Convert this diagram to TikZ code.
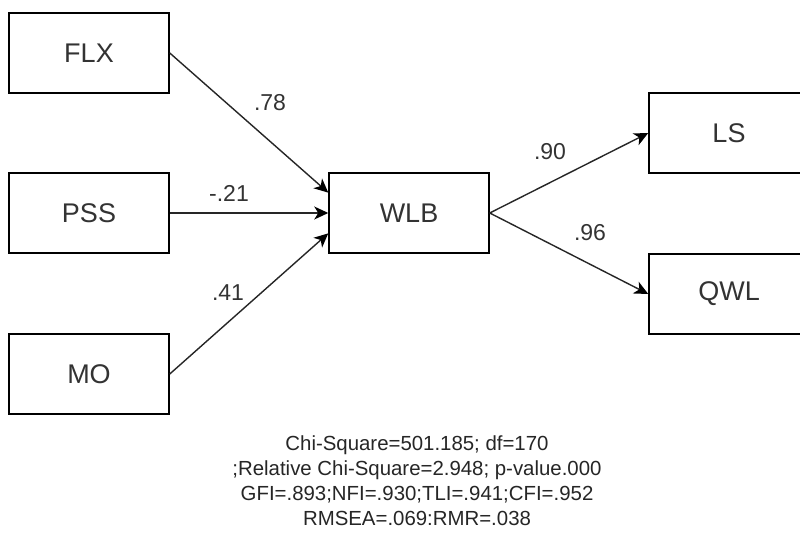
\documentclass[tikz,border=0pt]{standalone}
\usepackage{fontspec}
\setmainfont{Liberation Sans}
\usetikzlibrary{arrows.meta,calc}
\begin{document}
\begin{tikzpicture}[x=1pt,y=-1pt,
  box/.style={draw=black, line width=1.5pt, fill=white, minimum width=160pt, minimum height=80pt, inner sep=0pt, text=black!80, font=\fontsize{27}{32}\selectfont},
  edge/.style={draw=black!85, line width=1.4pt, -{Stealth[length=14pt,width=13pt,inset=4pt,color=black]}},
  wlabel/.style={text=black!80, font=\fontsize{23}{27}\selectfont, inner sep=0pt},
  stats/.style={text=black!85, font=\fontsize{20.4}{25}\selectfont, align=center, inner sep=0pt}]
\clip (0,0) rectangle (800,537);
\fill[white] (0,0) rectangle (800,537);
\node[box] (flx) at (89,53) {FLX};
\node[box] (pss) at (89,213) {PSS};
\node[box] (mo) at (89,374) {MO};
\node[box] (wlb) at (409,213) {WLB};
\node[box] (ls) at (729,133) {LS};
\node[box] (qwl) at (729,294) {QWL};
\draw[edge] (flx.east) -- ($(wlb.north west)!0.25!(wlb.south west)$);
\draw[edge] (pss.east) -- (wlb.west);
\draw[edge] (mo.east) -- ($(wlb.north west)!0.75!(wlb.south west)$);
\draw[edge] (wlb.east) -- (ls.west);
\draw[edge] (wlb.east) -- (qwl.west);
\node[wlabel] (l78) at (270,103) {.78};
\node[wlabel] (l21) at (229,193) {-.21};
\node[wlabel] (l41) at (228,293) {.41};
\node[wlabel] (l90) at (550,152) {.90};
\node[wlabel] (l96) at (590,233) {.96};
\node[stats] (fit) at (417,480.5) {Chi-Square=501.185; df=170\\;Relative Chi-Square=2.948; p-value.000\\GFI=.893;NFI=.930;TLI=.941;CFI=.952\\RMSEA=.069:RMR=.038};
\end{tikzpicture}
\end{document}
